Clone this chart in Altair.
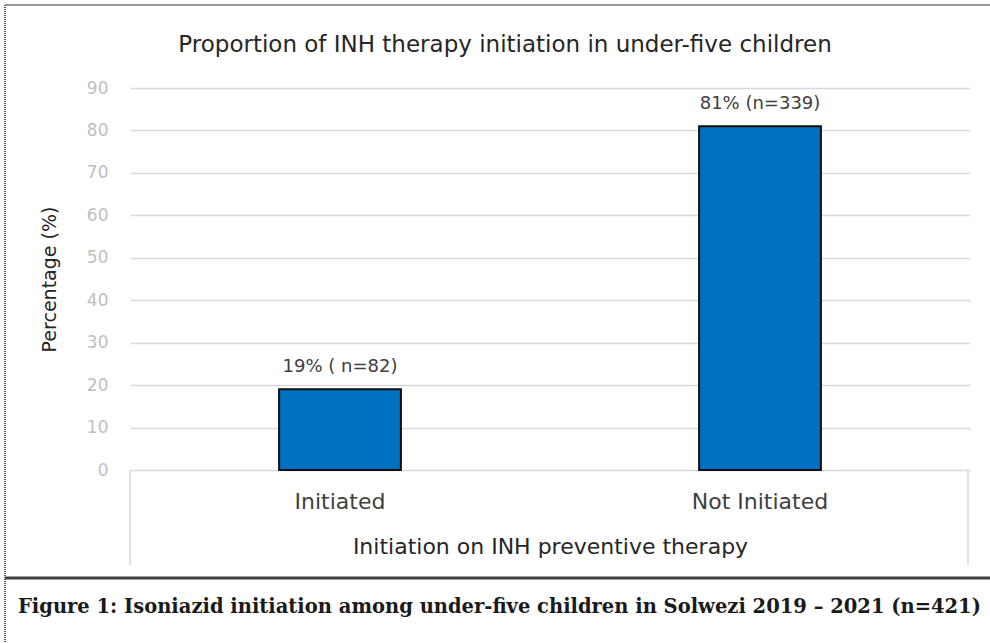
import altair as alt
import pandas as pd

categories = ["Initiated", "Not Initiated"]
percentages = [19, 81]
labels = ["19% ( n=82)", "81% (n=339)"]

title_text = "Proportion of INH therapy initiation in under-five children"
x_title = "Initiation on INH preventive therapy"
y_title = "Percentage (%)"
caption = "Figure 1: Isoniazid initiation among under-five children in Solwezi 2019 \u2013 2021 (n=421)"

df = pd.DataFrame({"cat": categories, "pct": percentages, "label": labels})

W, H = 840, 382
FONT = "DejaVu Sans"

x_enc = alt.X("cat:N", sort=categories, title=x_title,
              scale=alt.Scale(paddingInner=0.71, paddingOuter=0.355),
              axis=alt.Axis(labelAngle=0, labelFontSize=22, labelColor="#404040",
                            labelPadding=21, titleFontSize=22, titleColor="#262626",
                            titleFontWeight="normal", titlePadding=24, grid=False,
                            domain=True, domainColor="#d9d9d9", ticks=False,
                            labelFont=FONT, titleFont=FONT))
y_enc = alt.Y("pct:Q", title=y_title,
              scale=alt.Scale(domain=[0, 90], nice=False),
              axis=alt.Axis(values=list(range(0, 91, 10)), labelFontSize=17,
                            labelColor="#bfbfbf", labelPadding=22, domain=False,
                            ticks=False, gridColor="#d9d9d9", gridWidth=1.5,
                            titleFontSize=19, titleColor="#262626",
                            titleFontWeight="normal", titlePadding=27,
                            labelFont=FONT, titleFont=FONT))

bars = alt.Chart(df).mark_bar(color="#0070c0", stroke="#0d0d0d", strokeWidth=2).encode(
    x=x_enc, y=y_enc)

text = alt.Chart(df).mark_text(baseline="bottom", dy=-13, fontSize=18,
                               color="#404040", font=FONT).encode(
    x=alt.X("cat:N", sort=categories, axis=alt.Axis(grid=False)), y="pct:Q", text="label:N")

one = alt.Data(values=[{"a": 1}])
title_mark = alt.Chart(one).mark_text(align="center", baseline="middle", fontSize=23,
                                      font=FONT, color="#262626").encode(
    x=alt.value(375), y=alt.value(-43), text=alt.value(title_text))
box_l = alt.Chart(one).mark_rule(color="#d9d9d9", strokeWidth=1.5).encode(
    x=alt.value(0), y=alt.value(H), y2=alt.value(477))
box_r = alt.Chart(one).mark_rule(color="#d9d9d9", strokeWidth=1.5).encode(
    x=alt.value(838), y=alt.value(H), y2=alt.value(477))
frame_left = alt.Chart(one).mark_rule(color="#555555", strokeWidth=2, strokeDash=[1, 1]).encode(
    x=alt.value(-125), y=alt.value(-83), y2=alt.value(555))
frame_top = alt.Chart(one).mark_rule(color="#777777", strokeWidth=1.5).encode(
    x=alt.value(-125), x2=alt.value(860), y=alt.value(-83))
sep = alt.Chart(one).mark_rule(color="#404040", strokeWidth=3).encode(
    x=alt.value(-125), x2=alt.value(860), y=alt.value(490))
cap = alt.Chart(one).mark_text(align="left", baseline="middle", fontSize=19.5,
                               fontWeight="bold", font="DejaVu Serif",
                               color="#1a1a1a").encode(
    x=alt.value(-112), y=alt.value(519), text=alt.value(caption))

chart = alt.layer(bars, text, title_mark, box_l, box_r, frame_left, frame_top, sep, cap).properties(
    width=W, height=H,
    background="white",
    autosize=alt.AutoSizeParams(type="none"),
    padding={"left": 130, "top": 88, "right": 20, "bottom": 173},
).configure_view(stroke=None)

chart.save("out.html", embed_options={"renderer": "svg", "actions": False})
